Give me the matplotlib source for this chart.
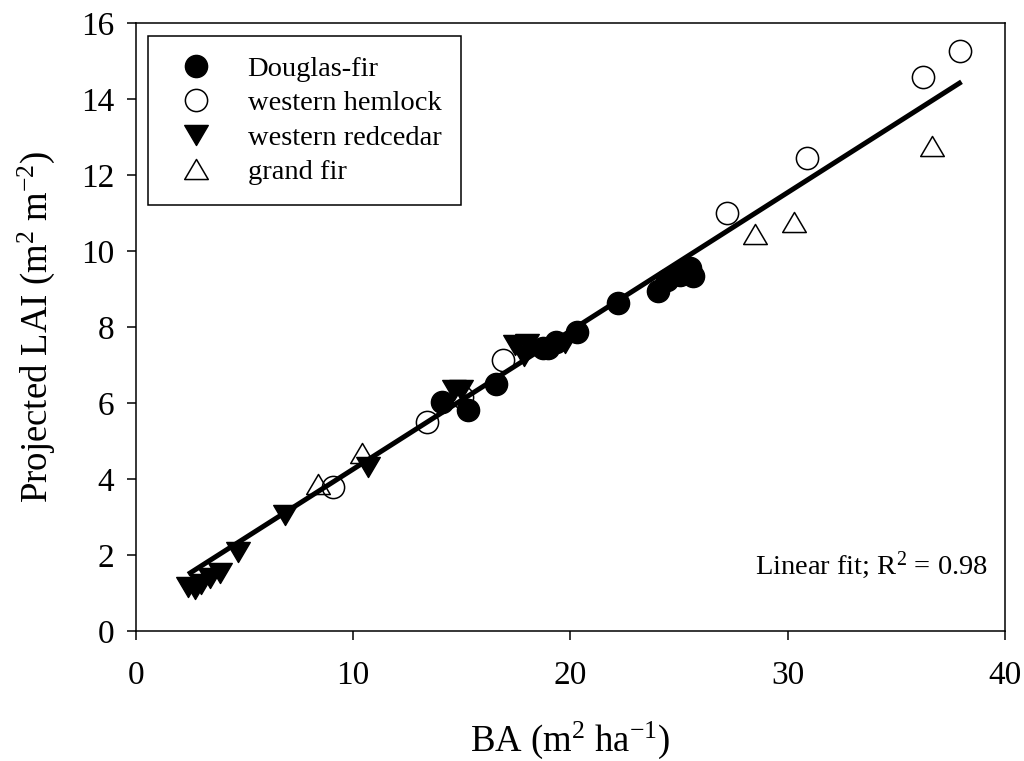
import numpy as np
import matplotlib
matplotlib.use('Agg')
import matplotlib.pyplot as plt
from matplotlib.path import Path

plt.rcParams['font.family'] = ['Liberation Serif', 'DejaVu Serif']
plt.rcParams['mathtext.fontset'] = 'custom'
plt.rcParams['mathtext.rm'] = 'Liberation Serif'
plt.rcParams['mathtext.it'] = 'Liberation Serif:italic'

#basal area (x) and projected LAI (y) by species
df_ba = [14.07, 15.3, 16.55, 18.75, 18.95, 19.33, 20.3, 22.2, 24.04, 24.43, 25.04, 25.5, 25.64]
df_lai = [6.03, 5.82, 6.5, 7.44, 7.44, 7.6, 7.88, 8.64, 8.95, 9.24, 9.37, 9.55, 9.35]

wh_ba = [9.08, 13.38, 15.0, 16.9, 27.19, 30.87, 36.24, 37.93]
wh_lai = [3.8, 5.51, 6.15, 7.13, 11.0, 12.46, 14.59, 15.27]

wrc_ba = [2.4, 2.72, 3.0, 3.4, 3.85, 4.71, 6.86, 10.69, 14.65, 14.95, 17.45, 17.98, 17.85, 19.75]
wrc_lai = [1.17, 1.1, 1.25, 1.4, 1.52, 2.09, 3.05, 4.32, 6.35, 6.35, 7.53, 7.55, 7.25, 7.58]

gf_ba = [8.39, 10.39, 28.49, 30.29, 36.62]
gf_lai = [3.87, 4.68, 10.44, 10.75, 12.76]

#linear fit
fit_slope = 0.364
fit_intercept = 0.62
fit_range = [2.4, 38.0]
r2 = 0.98

#closed triangles, a bit wider than tall
codes = [Path.MOVETO, Path.LINETO, Path.LINETO, Path.CLOSEPOLY]
tri_up = Path([(-1, -0.85), (1, -0.85), (0, 0.85), (-1, -0.85)], codes)
tri_down = Path([(-1, 0.85), (1, 0.85), (0, -0.85), (-1, 0.85)], codes)

fig = plt.figure(figsize=(10.24, 7.61), dpi=100)
ax = fig.add_axes([0.1328, 0.1708, 0.8486, 0.799])

xfit = np.array(fit_range)
ax.plot(xfit, fit_intercept + fit_slope*xfit, color='black', lw=3.6, zorder=2, solid_capstyle='butt')

ms = 16
ax.plot(df_ba, df_lai, 'o', ms=ms, color='black', mec='black', label='Douglas-fir', zorder=3)
ax.plot(wh_ba, wh_lai, 'o', ms=ms, mfc='none', mec='black', mew=1.1, label='western hemlock', zorder=3)
ax.plot(wrc_ba, wrc_lai, linestyle='none', marker=tri_down, ms=ms + 1, color='black', label='western redcedar', zorder=3)
ax.plot(gf_ba, gf_lai, linestyle='none', marker=tri_up, ms=ms + 1, mfc='none', mec='black', mew=1.1, label='grand fir', zorder=3)

ax.set_xlim(0, 40)
ax.set_ylim(0, 16)
ax.set_xticks([0, 10, 20, 30, 40])
ax.set_yticks(np.arange(0, 17, 2))
ax.tick_params(direction='out', length=6.5, width=1.1, labelsize=24)
ax.tick_params(axis='x', pad=15)
ax.tick_params(axis='y', pad=9)
for s in ax.spines.values():
    s.set_linewidth(1.1)

ax.set_xlabel('BA (m$^{2}$ ha$^{-1}$)', fontsize=26.5, labelpad=20)
ax.set_ylabel('Projected LAI (m$^{2}$ m$^{-2}$)', fontsize=26.5, labelpad=17)

leg = ax.legend(loc='upper left', bbox_to_anchor=(0.0138, 0.9786), borderaxespad=0,
                fontsize=20.5, frameon=True, fancybox=False, framealpha=1, edgecolor='black',
                borderpad=0.7, handlelength=2.0, handletextpad=0.8, labelspacing=0.3)
leg.get_frame().set_linewidth(1.1)

ax.text(0.98, 0.1086, 'Linear fit; R$^{2}$ = %.2f' % r2, transform=ax.transAxes,
        ha='right', va='center', fontsize=20.5)

fig.savefig('out.png', dpi=100)
